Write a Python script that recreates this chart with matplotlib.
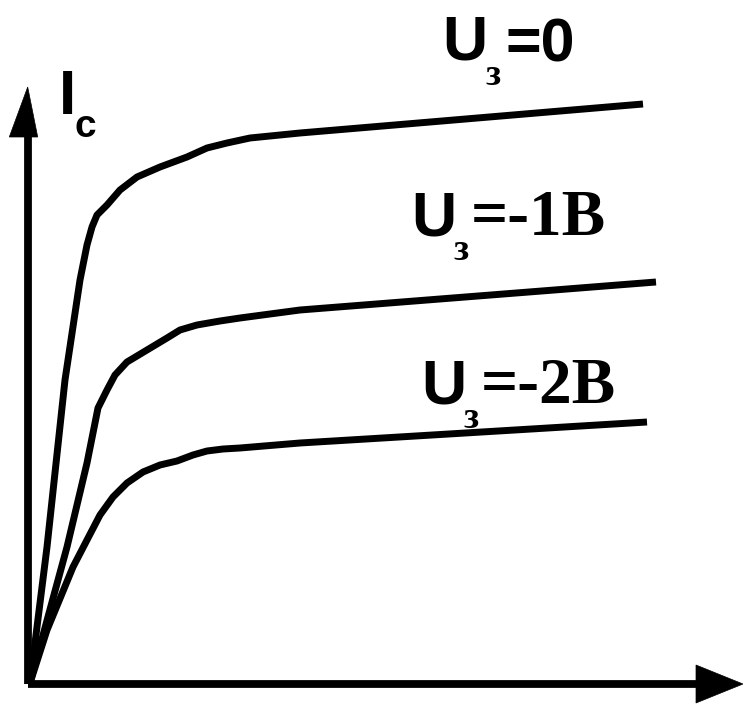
import matplotlib
matplotlib.use("Agg")
import matplotlib.pyplot as plt
from matplotlib.patches import Polygon

# Drain voltage (x) and drain current (y), arbitrary units
u0_x = [0, 1.7, 3.5, 5.0, 5.7, 6.2, 6.7, 7.7, 9.0, 10.7, 13.0, 15.7, 17.7, 19.7, 22.0, 27.0, 61.3]
u0_y = [0, 13.6, 30.3, 40.3, 43.8, 45.6, 46.8, 47.8, 49.3, 50.6, 51.6, 52.6, 53.5, 54.0, 54.5, 55.0, 57.9]

u1_x = [0, 3.7, 5.7, 6.8, 7.7, 8.5, 9.7, 11.7, 13.7, 15.0, 16.7, 19.0, 21.0, 27.0, 62.6]
u1_y = [0, 13.6, 22.0, 27.5, 29.3, 30.8, 32.1, 33.3, 34.5, 35.3, 35.8, 36.2, 36.5, 37.3, 40.1]

u2_x = [0, 1.7, 4.3, 5.7, 7.0, 8.3, 9.7, 11.3, 13.0, 14.7, 16.3, 17.7, 19.3, 21.0, 27.0, 61.7]
u2_y = [0, 5.3, 11.6, 14.3, 16.8, 18.6, 20.0, 21.1, 21.8, 22.2, 22.8, 23.2, 23.4, 23.5, 24.0, 26.1]

curves_x = [u0_x, u1_x, u2_x]
curves_y = [u0_y, u1_y, u2_y]
label_tail = ["=0", "=-1B", "=-2B"]

fig = plt.figure(figsize=(7.43, 7.10), dpi=100)
ax = fig.add_axes([0, 0, 1, 1])
ax.set_xlim(-3, 71.3)
ax.set_ylim(-2.7, 68.3)
ax.axis("off")

# axes with arrows
ax.plot([-0.15, -0.15], [-0.1, 55.5], color="black", lw=5.6, solid_capstyle="butt")
ax.plot([-0.15, 67.0], [-0.1, -0.1], color="black", lw=5.6, solid_capstyle="butt")
ax.add_patch(Polygon([[-2.07, 54.6], [0.77, 54.6], [-0.23, 59.6]], closed=True,
                     facecolor="black", edgecolor="black", lw=0.5))
ax.add_patch(Polygon([[66.6, 1.8], [66.6, -2.0], [71.3, -0.1]], closed=True,
                     facecolor="black", edgecolor="black", lw=0.5))

for xs, ys in zip(curves_x, curves_y):
    ax.plot(xs, ys, color="black", lw=5.0, solid_joinstyle="round", solid_capstyle="butt")

sans = "Liberation Sans"
serif = "Liberation Serif"

# I_c label
ax.text(2.9, 56.9, "I", fontfamily=sans, fontweight="bold", fontsize=45, ha="left", va="baseline")
ax.text(4.4, 54.6, "c", fontfamily=sans, fontweight="bold", fontsize=28, ha="left", va="baseline")

# gate voltage labels
lab_U = [(41.2, 62.3), (38.1, 44.8), (39.1, 28.0)]
lab_sub = [(45.6, 59.8), (42.4, 42.3), (43.4, 25.5)]
lab_tail = [(47.6, 62.2), (44.1, 44.8), (45.1, 28.0)]

for i in range(3):
    ax.text(*lab_U[i], "U", fontfamily=sans, fontweight="bold", fontsize=45,
            ha="left", va="baseline")
    ax.text(*lab_sub[i], "з", fontfamily=serif, fontweight="bold", fontsize=27,
            ha="left", va="baseline")
    fam = sans if i == 0 else serif
    ax.text(*lab_tail[i], label_tail[i], fontfamily=fam, fontweight="bold",
            fontsize=44 if i == 0 else 47, ha="left", va="baseline")

fig.savefig("out.png", dpi=100, facecolor="white")
